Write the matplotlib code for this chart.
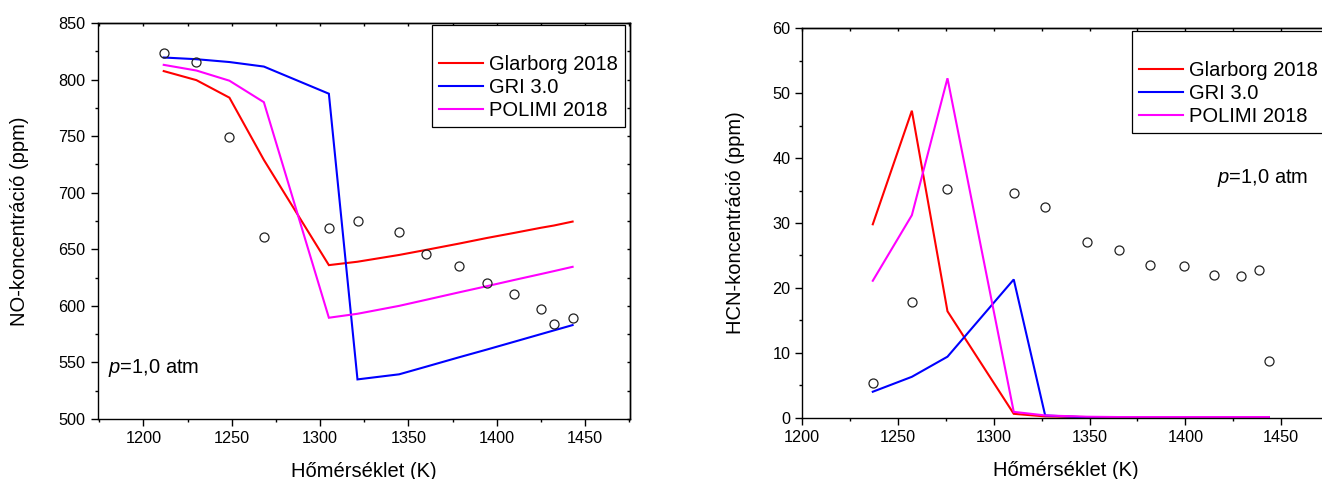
import matplotlib
matplotlib.use("Agg")
import matplotlib.pyplot as plt
from matplotlib.lines import Line2D
from matplotlib.ticker import MultipleLocator

plt.rcParams["font.family"] = ["Liberation Sans", "DejaVu Sans"]
plt.rcParams["mathtext.fontset"] = "custom"
plt.rcParams["mathtext.rm"] = "Liberation Sans"
plt.rcParams["mathtext.it"] = "Liberation Sans:italic"

# ---- NO concentration ----
no_exp_T = [1211.4, 1229.8, 1248.6, 1268.1, 1305.0, 1321.4, 1344.8, 1360.2,
            1378.6, 1394.5, 1410.0, 1425.0, 1432.4, 1443.1]
no_exp = [823.4, 815.7, 749.6, 661.0, 668.7, 674.6, 665.1, 645.6,
          635.0, 620.0, 610.2, 597.2, 584.2, 588.9]

no_model_T = [1211.5, 1230.0, 1248.7, 1268.2, 1305.0, 1321.2, 1344.8, 1360.2,
              1378.6, 1394.5, 1410.0, 1425.0, 1432.4, 1443.0]
no_glarborg = [807.5, 799.5, 784.0, 729.0, 636.0, 639.0, 645.0, 649.5,
               655.0, 660.0, 664.5, 669.0, 671.0, 674.5]
no_gri = [819.5, 818.0, 815.5, 811.5, 787.5, 535.0, 539.5, 546.3,
          554.5, 561.4, 568.3, 575.0, 578.3, 583.0]
no_polimi = [813.0, 808.0, 799.0, 780.0, 589.5, 593.0, 600.0, 605.4,
             611.9, 617.4, 622.9, 628.1, 630.7, 634.5]

# ---- HCN concentration ----
hcn_T = [1236.8, 1257.2, 1275.8, 1310.4, 1326.8, 1348.5, 1365.1, 1381.7,
         1399.5, 1415.2, 1428.9, 1438.7, 1443.6]
hcn_exp = [5.35, 17.8, 35.2, 34.65, 32.4, 27.1, 25.8, 23.5,
           23.3, 22.06, 21.8, 22.7, 8.7]
hcn_glarborg = [29.8, 47.3, 16.4, 0.6, 0.2, 0.1, 0.1, 0.1,
                0.1, 0.1, 0.1, 0.1, 0.1]
hcn_gri = [4.0, 6.3, 9.4, 21.3, 0.35, 0.05, 0.05, 0.05,
           0.05, 0.05, 0.05, 0.05, 0.05]
hcn_polimi = [21.1, 31.2, 52.3, 0.9, 0.35, 0.15, 0.1, 0.1,
              0.1, 0.1, 0.1, 0.1, 0.1]

model_names = ["Glarborg 2018", "GRI 3.0", "POLIMI 2018"]
model_colors = ["#ff0000", "#0000ff", "#ff00ff"]

W, H = 1322, 479
fig = plt.figure(figsize=(W / 100, H / 100), dpi=100)


def px_axes(x0, x1, ytop, ybot):
    return fig.add_axes([x0 / W, 1 - ybot / H, (x1 - x0) / W, (ybot - ytop) / H])


def style_axes(ax, xmaj, xmin, ymaj, ymin):
    for s in ax.spines.values():
        s.set_linewidth(1.0)
        s.set_color("black")
    ax.xaxis.set_major_locator(MultipleLocator(xmaj))
    ax.xaxis.set_minor_locator(MultipleLocator(xmin))
    ax.yaxis.set_major_locator(MultipleLocator(ymaj))
    ax.yaxis.set_minor_locator(MultipleLocator(ymin))
    ax.tick_params(which="both", direction="out", top=False, right=False,
                   labelsize=11.7, width=1.0, color="black")
    ax.tick_params(which="major", length=5)
    ax.tick_params(which="minor", length=2.5)
    # short inward ticks on the opposite frame edges
    top = ax.secondary_xaxis("top")
    top.xaxis.set_major_locator(MultipleLocator(xmin))
    top.tick_params(direction="in", length=2.5, width=1.0, labeltop=False)
    top.spines["top"].set_linewidth(1.0)
    right = ax.secondary_yaxis("right")
    right.yaxis.set_major_locator(MultipleLocator(ymin))
    right.tick_params(direction="in", length=2.5, width=1.0, labelright=False)
    right.spines["right"].set_linewidth(1.0)


def add_legend(ax, lines, **kw):
    blank = Line2D([], [], color="none")
    leg = ax.legend([blank] + lines, [" "] + model_names, frameon=True,
                    fancybox=False, edgecolor="black", framealpha=1,
                    fontsize=14.5, handlelength=2.2, handletextpad=0.3,
                    labelspacing=0.2, borderpad=0.35, borderaxespad=0,
                    **kw)
    leg.get_frame().set_linewidth(0.9)
    return leg


circle_kw = dict(linestyle="none", marker="o", markersize=6.5,
                 markerfacecolor="none", markeredgecolor="#222222",
                 markeredgewidth=0.9, zorder=4)

# ---- left panel: NO ----
ax1 = px_axes(97.5, 630, 23, 419)
lines1 = []
for vals, c in zip([no_glarborg, no_gri, no_polimi], model_colors):
    ln, = ax1.plot(no_model_T, vals, color=c, lw=1.5, solid_joinstyle="miter")
    lines1.append(ln)
ax1.plot(no_exp_T, no_exp, **circle_kw)
ax1.set_xlim(1174, 1475.5)
ax1.set_ylim(500, 850)
style_axes(ax1, 50, 25, 50, 25)
ax1.set_ylabel("NO-koncentráció (ppm)", fontsize=14.5)
ax1.yaxis.set_label_coords(-0.128, 0.5)
ax1.set_xlabel("Hőmérséklet (K)", fontsize=14.5)
ax1.xaxis.set_label_coords(0.5, -0.108)
add_legend(ax1, lines1, loc="upper right", bbox_to_anchor=(0.9906, 0.995))
ax1.text(0.019, 0.116, "$p$=1,0 atm", transform=ax1.transAxes,
         fontsize=14.5, ha="left", va="baseline")

# ---- right panel: HCN ----
ax2 = px_axes(802.3, 1329, 28.3, 417.7)
lines2 = []
for vals, c in zip([hcn_glarborg, hcn_gri, hcn_polimi], model_colors):
    ln, = ax2.plot(hcn_T, vals, color=c, lw=1.5, solid_joinstyle="miter")
    lines2.append(ln)
ax2.plot(hcn_T, hcn_exp, **circle_kw)
ax2.set_xlim(1200, 1475)
ax2.set_ylim(0, 60)
style_axes(ax2, 50, 25, 10, 5)
ax2.set_ylabel("HCN-koncentráció (ppm)", fontsize=14.5)
ax2.yaxis.set_label_coords(-0.109, 0.5)
ax2.set_xlabel("Hőmérséklet (K)", fontsize=14.5)
ax2.xaxis.set_label_coords(0.5, -0.111)
add_legend(ax2, lines2, loc="upper left", bbox_to_anchor=(0.6254, 0.9938))
ax2.text(0.787, 0.603, "$p$=1,0 atm", transform=ax2.transAxes,
         fontsize=14.5, ha="left", va="baseline")

fig.savefig("out.png", dpi=100)
